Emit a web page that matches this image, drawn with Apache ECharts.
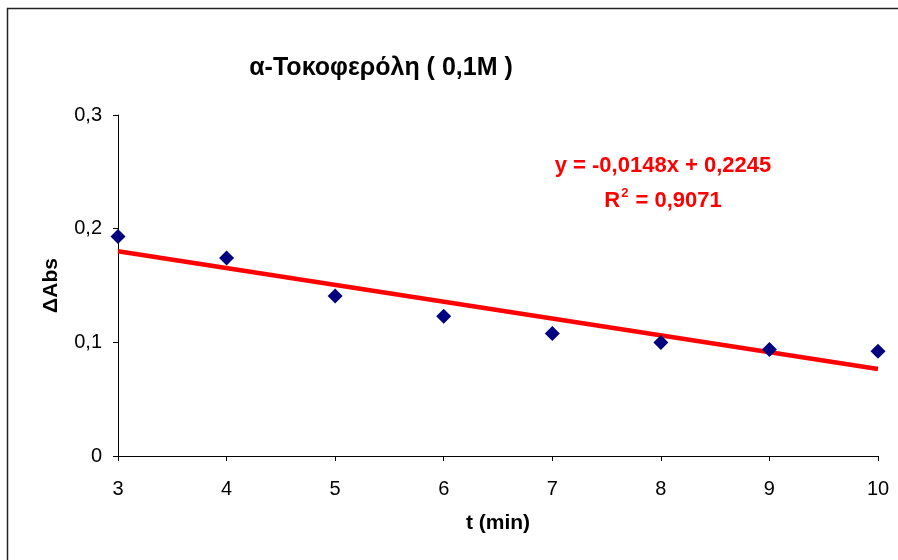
<!DOCTYPE html>
<html>
<head>
<meta charset="utf-8">
<script src="https://cdn.jsdelivr.net/npm/echarts@6/dist/echarts.min.js"></script>
<style>
html,body{margin:0;padding:0;background:#fff;}
#c{width:898px;height:560px;}
</style>
</head>
<body>
<div id="c"></div>
<script>
const timeMin = [3, 4, 5, 6, 7, 8, 9, 10];
const deltaAbs = [0.1932, 0.1741, 0.1407, 0.1229, 0.1077, 0.0998, 0.0937, 0.0922];
const trendSlope = -0.0148;
const trendIntercept = 0.2245;
const trendX = [3, 10];
const yTicks = [0, 0.1, 0.2, 0.3];

const chart = echarts.init(document.getElementById('c'));
const F = '"Liberation Sans", Arial, sans-serif';
const fmt = v => String(Math.round(v * 10) / 10).replace('.', ',');

chart.setOption({
  animation: false,
  backgroundColor: '#fff',
  grid: { left: 118, right: 20, top: 115, bottom: 104 },
  xAxis: {
    type: 'value', min: 3, max: 10, interval: 1,
    name: 't (min)', nameLocation: 'middle', nameGap: 57,
    nameTextStyle: { fontFamily: F, fontSize: 21, fontWeight: 'bold', color: '#000' },
    axisLine: { show: true, onZero: false, lineStyle: { color: '#000', width: 1 } },
    axisTick: { show: true, length: 5, lineStyle: { color: '#000' } },
    axisLabel: { fontFamily: F, fontSize: 20, color: '#000', margin: 23 },
    splitLine: { show: false }
  },
  yAxis: {
    type: 'value', min: 0, max: 0.3, interval: 0.1,
    name: 'ΔAbs', nameLocation: 'middle', nameGap: 56,
    nameTextStyle: { fontFamily: F, fontSize: 21, fontWeight: 'bold', color: '#000' },
    axisLine: { show: true, lineStyle: { color: '#000', width: 1 } },
    axisTick: { show: true, length: 5, lineStyle: { color: '#000' } },
    axisLabel: { fontFamily: F, fontSize: 20, color: '#000', margin: 16, formatter: v => yTicks.some(t => Math.abs(t - v) < 1e-9) ? fmt(v) : '' },
    splitLine: { show: false }
  },
  series: [
    {
      type: 'line',
      data: trendX.map(x => [x, trendSlope * x + trendIntercept]),
      showSymbol: false, symbol: 'none',
      lineStyle: { color: '#ff0000', width: 4.5 },
      z: 2
    },
    {
      type: 'scatter',
      data: timeMin.map((t, i) => [t, deltaAbs[i]]),
      symbol: 'diamond', symbolSize: 15,
      itemStyle: { color: '#000080', opacity: 1 },
      z: 3
    }
  ],
  graphic: [
    {
      type: 'rect', shape: { x: 7.5, y: 8.5, width: 1000, height: 1000 },
      style: { fill: 'none', stroke: '#222', lineWidth: 1.5 }, z: 100, silent: true
    },
    {
      type: 'text', x: 381, y: 68,
      style: {
        text: 'α-Τοκοφερόλη ( 0,1M )', fill: '#000', font: 'bold 25px ' + F,
        align: 'center', verticalAlign: 'middle'
      }
    },
    {
      type: 'text', x: 663, y: 166,
      style: {
        text: 'y = -0,0148x + 0,2245', fill: '#ff0000', font: 'bold 22px ' + F,
        align: 'center', verticalAlign: 'middle'
      }
    },
    {
      type: 'text', x: 663, y: 199,
      style: {
        text: '{a|R}{s|2}{a| = 0,9071}', align: 'center', verticalAlign: 'middle',
        rich: {
          a: { fill: '#ff0000', font: 'bold 22px ' + F, verticalAlign: 'bottom' },
          s: { fill: '#ff0000', font: 'bold 13px ' + F, verticalAlign: 'top', padding: [0, 1, 12, 1] }
        }
      }
    }
  ]
});
</script>
</body>
</html>
